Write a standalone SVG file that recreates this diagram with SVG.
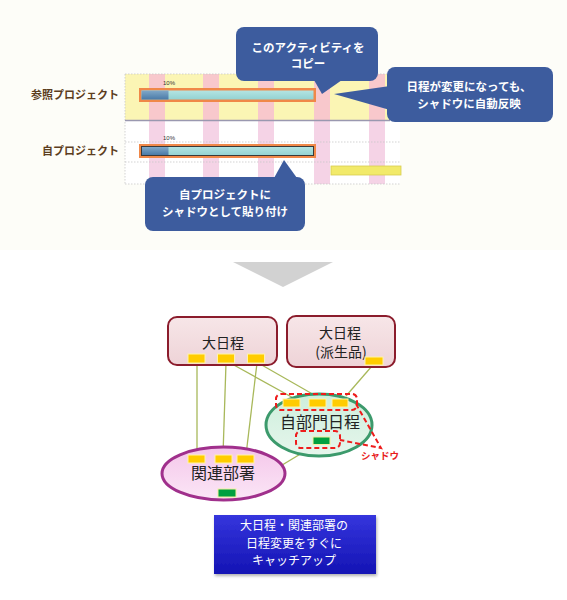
<svg xmlns="http://www.w3.org/2000/svg" width="567" height="600" viewBox="0 0 567 600">
<defs>
<style>
.jp{font-family:'Noto Sans CJK JP','Noto Sans',sans-serif}
.lbl{font-size:11px;font-weight:bold;fill:#5c3d1e;text-anchor:end}
.ct{font-size:11.5px;font-weight:bold;fill:#ffffff;text-anchor:middle}
.call{fill:#3d5c9e}
.stripeT{fill:#f8c8cc}
.stripeB{fill:#f5d3e6}
.grid{stroke:#c8c8c8;stroke-width:0.8;stroke-dasharray:1.5 1.5;fill:none}
.pct{font-family:'Liberation Sans',sans-serif;font-size:6px;fill:#333}
.box{fill:url(#gBox);stroke:#8b1c2c;stroke-width:2}
.bt{font-size:14px;fill:#222;text-anchor:middle}
.big{font-size:16px;fill:#222;text-anchor:middle}
.y{fill:#ffcc00;stroke:#fff3a8;stroke-width:1}
.g{fill:#00a040;stroke:#f4f0a0;stroke-width:1}
.conn{stroke:#a8b85a;stroke-width:1.3;fill:none}
.rd{stroke:#ee1c1c;stroke-width:2;stroke-dasharray:5 3;fill:none}
.wt{font-size:12px;fill:#ffffff;text-anchor:middle}
</style>
<linearGradient id="gBox" x1="0" y1="0" x2="0" y2="1">
<stop offset="0" stop-color="#f7e6e8"/><stop offset="1" stop-color="#eed3d7"/>
</linearGradient>
<linearGradient id="gPink" x1="0" y1="0" x2="0" y2="1">
<stop offset="0" stop-color="#f4c6ea"/><stop offset="1" stop-color="#fbe6f6"/>
</linearGradient>
<linearGradient id="gGreen" x1="0" y1="0" x2="0" y2="1">
<stop offset="0" stop-color="#cdeedc"/><stop offset="1" stop-color="#e6f6ec"/>
</linearGradient>
<linearGradient id="gBlue" x1="0" y1="0" x2="0" y2="1">
<stop offset="0" stop-color="#3535dd"/><stop offset="1" stop-color="#1414b4"/>
</linearGradient>
<linearGradient id="gProg" x1="0" y1="0" x2="0" y2="1">
<stop offset="0" stop-color="#80a8c8"/><stop offset="1" stop-color="#4a7aa8"/>
</linearGradient>
<linearGradient id="gTeal" x1="0" y1="0" x2="0" y2="1">
<stop offset="0" stop-color="#b4e4e2"/><stop offset="1" stop-color="#94d2d2"/>
</linearGradient>
<filter id="sh" x="-10%" y="-10%" width="130%" height="140%">
<feDropShadow dx="1" dy="2" stdDeviation="1.5" flood-color="#000" flood-opacity="0.3"/>
</filter>
</defs>

<rect x="0" y="0" width="567" height="600" fill="#ffffff"/>
<rect x="0" y="0" width="567" height="250" fill="#fdfdf8"/>

<g id="gantt">
<rect x="125" y="74" width="265" height="46" fill="#fbf5b4"/>
<rect x="125" y="121" width="275" height="63" fill="#ffffff"/>
<rect class="stripeT" x="149" y="74" width="16" height="46"/>
<rect class="stripeT" x="203" y="74" width="16" height="46"/>
<rect class="stripeT" x="258" y="74" width="16" height="46"/>
<rect class="stripeT" x="314" y="74" width="16" height="46"/>
<rect class="stripeT" x="369" y="74" width="16" height="46"/>
<rect class="stripeB" x="149" y="121" width="16" height="63"/>
<rect class="stripeB" x="203" y="121" width="16" height="63"/>
<rect class="stripeB" x="258" y="121" width="16" height="63"/>
<rect class="stripeB" x="314" y="121" width="16" height="63"/>
<rect class="stripeB" x="369" y="121" width="16" height="63"/>
<path class="grid" d="M125 74H390M125 74V184M125 142H400M125 162H400M125 184H400"/>
<line x1="125" y1="120.5" x2="390" y2="120.5" stroke="#9a98b0" stroke-width="1.6"/>
<rect x="331" y="166" width="70" height="9" fill="#f2ea6a" stroke="#d8cc50" stroke-width="0.8"/>
<text class="pct" x="163" y="85">10%</text>
<rect x="139" y="88" width="177" height="14" fill="#f08848"/>
<rect x="141.5" y="90.5" width="172" height="9" fill="url(#gTeal)"/>
<rect x="141.5" y="90.5" width="27" height="9" fill="url(#gProg)"/>
<text class="pct" x="163" y="140">10%</text>
<rect x="139" y="144" width="177" height="14" fill="#f08848"/>
<rect x="141.5" y="146.5" width="172" height="9" fill="url(#gTeal)" stroke="#3a3a3a" stroke-width="1"/>
<rect x="142" y="147" width="26.5" height="8" fill="url(#gProg)"/>
</g>

<g id="labels" class="jp">
<text class="lbl" x="119" y="99">参照プロジェクト</text>
<text class="lbl" x="119" y="155">自プロジェクト</text>
</g>

<g id="callout-copy" class="jp">
<rect class="call" x="236" y="27" width="142" height="54" rx="8"/>
<polygon class="call" points="314,80 342,80 322,94"/>
<text class="ct" x="308" y="52">このアクティビティを</text>
<text class="ct" x="308" y="68">コピー</text>
</g>

<g id="callout-auto" class="jp">
<rect class="call" x="387" y="67" width="166" height="55" rx="8"/>
<polygon class="call" points="390,86 334,94 390,110"/>
<text class="ct" x="469" y="91">日程が変更になっても、</text>
<text class="ct" x="469" y="108">シャドウに自動反映</text>
</g>

<g id="callout-paste" class="jp">
<rect class="call" x="145" y="177" width="160" height="54" rx="8"/>
<polygon class="call" points="274,178 284,160 297,178"/>
<text class="ct" x="225" y="199">自プロジェクトに</text>
<text class="ct" x="225" y="216">シャドウとして貼り付け</text>
</g>

<g id="down-arrow">
<polygon points="233,262 333,262 283,287" fill="#d2d2d2"/>
</g>

<g id="connectors">
<line class="conn" x1="197" y1="363" x2="197" y2="455"/>
<line class="conn" x1="226" y1="363" x2="223" y2="455"/>
<line class="conn" x1="257" y1="363" x2="246" y2="455"/>
<line class="conn" x1="232" y1="364" x2="297" y2="400"/>
<line class="conn" x1="260" y1="364" x2="323" y2="400"/>
<line class="conn" x1="372" y1="366" x2="346" y2="396"/>
<line class="conn" x1="317" y1="444" x2="236" y2="493"/>
</g>

<g id="daini" class="jp">
<rect class="box" x="168" y="317" width="109" height="48" rx="9"/>
<text class="bt" x="223" y="348">大日程</text>
<rect class="y" x="188" y="354" width="17" height="9"/>
<rect class="y" x="217.5" y="354" width="17" height="9"/>
<rect class="y" x="247.5" y="354" width="17" height="9"/>
</g>

<g id="daini-hasei" class="jp">
<rect class="box" x="287" y="316" width="108" height="51" rx="9"/>
<text class="bt" x="340" y="338">大日程</text>
<text class="bt" x="341" y="357">(派生品)</text>
<rect class="y" x="365" y="357" width="18" height="8"/>
</g>

<g id="jibumon" class="jp">
<ellipse cx="319" cy="425" rx="53" ry="31" fill="url(#gGreen)" stroke="#3c9a6c" stroke-width="3"/>
<text class="big" x="320" y="428">自部門日程</text>
<rect class="y" x="283" y="399" width="17" height="8"/>
<rect class="y" x="309" y="399" width="17" height="8"/>
<rect class="y" x="332" y="399" width="16" height="8"/>
<rect class="g" x="313" y="437" width="17" height="7.5"/>
</g>

<g id="kanren" class="jp">
<ellipse cx="223.5" cy="473.5" rx="61.5" ry="26.5" fill="url(#gPink)" stroke="#a0308c" stroke-width="3"/>
<text class="big" x="223" y="479">関連部署</text>
<rect class="y" x="188" y="455" width="17" height="8"/>
<rect class="y" x="215" y="455" width="17" height="8"/>
<rect class="y" x="237" y="455" width="17" height="8"/>
<rect class="g" x="218" y="489" width="18" height="8"/>
</g>

<g id="shadow-mark" class="jp">
<rect class="rd" x="276" y="394" width="81" height="16" rx="5"/>
<rect class="rd" x="296" y="431" width="44" height="17" rx="5"/>
<polyline class="rd" points="356,404 381,448 340,440"/>
<text x="380" y="459" font-size="9.5" font-weight="bold" fill="#e81c1c" text-anchor="middle">シャドウ</text>
</g>

<g id="catchup" class="jp">
<rect x="214" y="515" width="162" height="59" fill="url(#gBlue)" filter="url(#sh)"/>
<text class="wt" x="294" y="530">大日程・関連部署の</text>
<text class="wt" x="294" y="547.5">日程変更をすぐに</text>
<text class="wt" x="294" y="565">キャッチアップ</text>
</g>
</svg>
